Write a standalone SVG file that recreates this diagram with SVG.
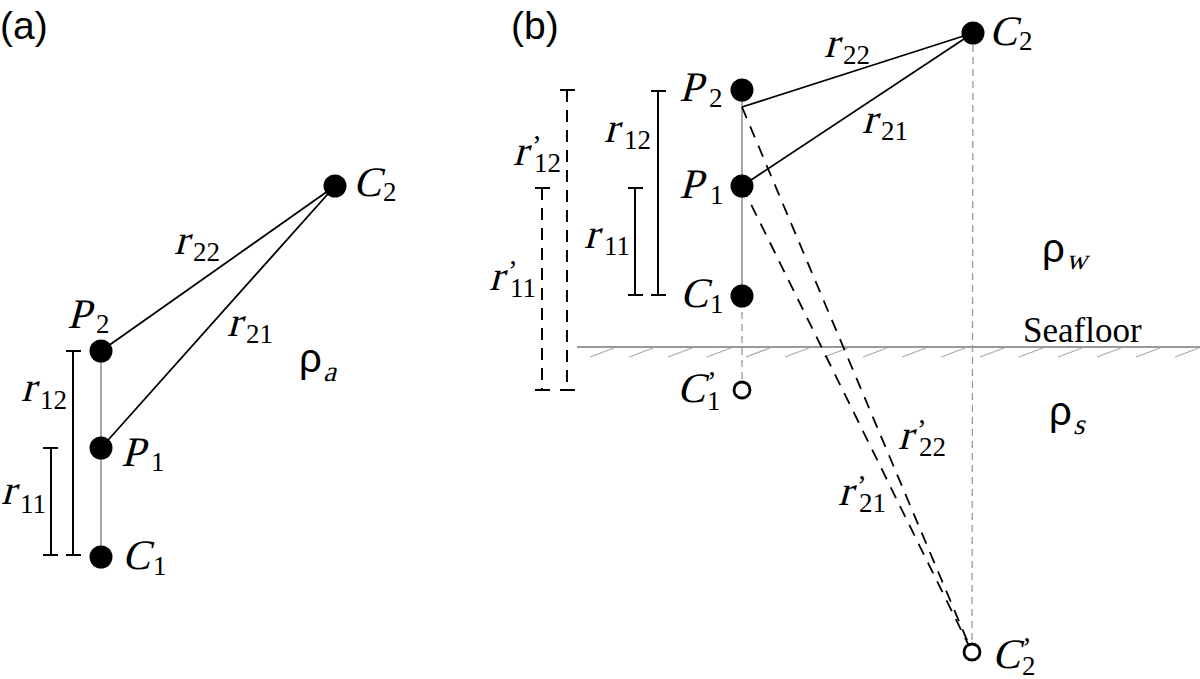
<svg xmlns="http://www.w3.org/2000/svg" width="1200" height="679" viewBox="0 0 1200 679">
<style>
text{font-family:"Liberation Serif","Times New Roman",serif;fill:#000}
.sk{font-size:42px}
.sub{font-size:27px}
.pr{font-size:29px}
.rho{font-family:"Liberation Sans",Arial,sans-serif;font-size:40px}
.rs{font-size:29px}
.panel{font-family:"Liberation Sans",Arial,sans-serif;font-size:39px}
.plain{font-size:35px}
.dot{fill:#000}
.open{fill:#fff;stroke:#000;stroke-width:2.8}
.ln{stroke:#000;stroke-width:1.8;fill:none}
.axis{stroke:#777;stroke-width:1.3;fill:none}
.gd{stroke:#999;stroke-width:1.3;stroke-dasharray:7 5;fill:none}
.dl{stroke:#000;stroke-width:1.8;stroke-dasharray:12 9;fill:none}
.br{stroke:#000;stroke-width:2;fill:none}
.brd{stroke:#000;stroke-width:2;stroke-dasharray:12 8;fill:none}
.sea{stroke:#777;stroke-width:1.5}
.hatch{stroke:#aaa;stroke-width:1.2}
</style>
<rect width="1200" height="679" fill="#fff"/>

<text class="panel" x="0" y="39">(a)</text>
<text class="panel" x="511" y="39">(b)</text>

<g id="connectors">
  <line class="axis" x1="101" y1="351" x2="101" y2="557"/>
  <line class="ln" x1="335" y1="186" x2="101" y2="351"/>
  <line class="ln" x1="335" y1="186" x2="101" y2="448"/>
  <path class="br" d="M73 351V555M66 351H81M66 555H81"/>
  <path class="br" d="M51 448V555M43 448H58M43 555H58"/>
  <line class="sea" x1="577" y1="347" x2="1200" y2="347"/>
  <g class="hatch">
    <line x1="590" y1="357" x2="614" y2="348"/>
    <line x1="629" y1="357" x2="653" y2="348"/>
    <line x1="668" y1="357" x2="692" y2="348"/>
    <line x1="707" y1="357" x2="731" y2="348"/>
    <line x1="746" y1="357" x2="770" y2="348"/>
    <line x1="785" y1="357" x2="809" y2="348"/>
    <line x1="824" y1="357" x2="848" y2="348"/>
    <line x1="863" y1="357" x2="887" y2="348"/>
    <line x1="902" y1="357" x2="926" y2="348"/>
    <line x1="941" y1="357" x2="965" y2="348"/>
    <line x1="980" y1="357" x2="1004" y2="348"/>
    <line x1="1019" y1="357" x2="1043" y2="348"/>
    <line x1="1058" y1="357" x2="1082" y2="348"/>
    <line x1="1097" y1="357" x2="1121" y2="348"/>
    <line x1="1136" y1="357" x2="1160" y2="348"/>
    <line x1="1175" y1="357" x2="1199" y2="348"/>
  </g>
  <line class="axis" x1="742" y1="90" x2="742" y2="296"/>
  <line class="gd" x1="742" y1="300" x2="742" y2="390"/>
  <line class="gd" x1="973" y1="33" x2="972" y2="652"/>
  <line class="ln" x1="973" y1="33" x2="742" y2="107"/>
  <line class="ln" x1="973" y1="33" x2="742" y2="186"/>
  <line class="dl" x1="742" y1="107" x2="972" y2="652"/>
  <line class="dl" x1="742" y1="186" x2="972" y2="652"/>
  <path class="br" d="M658 91V295M651 91H666M651 295H666"/>
  <path class="br" d="M635 188V295M628 188H643M628 295H643"/>
  <path class="brd" d="M567 90V390"/>
  <path class="br" d="M560 90H575M560 390H575"/>
  <path class="brd" d="M542 188V390"/>
  <path class="br" d="M535 188H550M535 390H550"/>
</g>

<g id="a-C2">
  <circle class="dot" cx="335" cy="186" r="11.5"/>
  <g transform="translate(353,196)"><text class="sk" transform="skewX(-15)">C</text><text class="sub" x="30" y="5">2</text></g>
</g>
<g id="a-P2">
  <circle class="dot" cx="101" cy="351" r="11.5"/>
  <g transform="translate(67,328)"><text class="sk" transform="skewX(-15)">P</text><text class="sub" x="29" y="5">2</text></g>
</g>
<g id="a-P1">
  <circle class="dot" cx="101" cy="448" r="11.5"/>
  <g transform="translate(121,466)"><text class="sk" transform="skewX(-15)">P</text><text class="sub" x="30" y="5">1</text></g>
</g>
<g id="a-C1">
  <circle class="dot" cx="101" cy="557" r="11.5"/>
  <g transform="translate(122,569)"><text class="sk" transform="skewX(-15)">C</text><text class="sub" x="31" y="6">1</text></g>
</g>
<g id="a-labels">
  <g transform="translate(174,254)"><text class="sk" transform="skewX(-15)">r</text><text class="sub" x="19" y="7">22</text></g>
  <g transform="translate(227,336)"><text class="sk" transform="skewX(-15)">r</text><text class="sub" x="19" y="7">21</text></g>
  <g transform="translate(21,401)"><text class="sk" transform="skewX(-15)">r</text><text class="sub" x="19" y="8">12</text></g>
  <g transform="translate(1,504)"><text class="sk" transform="skewX(-15)">r</text><text class="sub" x="19" y="9">11</text></g>
  <g transform="translate(299,372)"><text class="rho">ρ</text><text class="rs" transform="translate(24,9) skewX(-15)">a</text></g>
</g>

<g id="b-C2">
  <circle class="dot" cx="973" cy="33" r="11.5"/>
  <g transform="translate(989,45)"><text class="sk" transform="skewX(-15)">C</text><text class="sub" x="30" y="5">2</text></g>
</g>
<g id="b-P2">
  <circle class="dot" cx="742" cy="90" r="11.5"/>
  <g transform="translate(679,101)"><text class="sk" transform="skewX(-15)">P</text><text class="sub" x="30" y="6">2</text></g>
</g>
<g id="b-P1">
  <circle class="dot" cx="742" cy="186" r="11.5"/>
  <g transform="translate(679,198)"><text class="sk" transform="skewX(-15)">P</text><text class="sub" x="31" y="6">1</text></g>
</g>
<g id="b-C1">
  <circle class="dot" cx="742" cy="296" r="11.5"/>
  <g transform="translate(680,307)"><text class="sk" transform="skewX(-15)">C</text><text class="sub" x="30" y="6">1</text></g>
</g>
<g id="b-C1p">
  <circle class="open" cx="742" cy="390" r="8"/>
  <g transform="translate(677,402)"><text class="sk" transform="skewX(-15)">C</text><text class="pr" x="30" y="-11">’</text><text class="sub" x="30" y="8">1</text></g>
</g>
<g id="b-C2p">
  <circle class="open" cx="972" cy="652" r="8"/>
  <g transform="translate(992,668)"><text class="sk" transform="skewX(-15)">C</text><text class="pr" x="30" y="-11">’</text><text class="sub" x="30" y="7">2</text></g>
</g>
<g id="b-labels">
  <g transform="translate(824,57)"><text class="sk" transform="skewX(-15)">r</text><text class="sub" x="19" y="7">22</text></g>
  <g transform="translate(862,133)"><text class="sk" transform="skewX(-15)">r</text><text class="sub" x="19" y="7">21</text></g>
  <g transform="translate(604,142)"><text class="sk" transform="skewX(-15)">r</text><text class="sub" x="20" y="7">12</text></g>
  <g transform="translate(584,248)"><text class="sk" transform="skewX(-15)">r</text><text class="sub" x="20" y="7">11</text></g>
  <g transform="translate(513,165)"><text class="sk" transform="skewX(-15)">r</text><text class="pr" x="19" y="-10">’</text><text class="sub" x="21" y="7">12</text></g>
  <g transform="translate(489,290)"><text class="sk" transform="skewX(-15)">r</text><text class="pr" x="19" y="-10">’</text><text class="sub" x="21" y="7">11</text></g>
  <g transform="translate(898,449)"><text class="sk" transform="skewX(-15)">r</text><text class="pr" x="19" y="-10">’</text><text class="sub" x="21" y="7">22</text></g>
  <g transform="translate(838,505)"><text class="sk" transform="skewX(-15)">r</text><text class="pr" x="19" y="-10">’</text><text class="sub" x="21" y="7">21</text></g>
  <g transform="translate(1042,262)"><text class="rho">ρ</text><text class="rs" transform="translate(24,7) skewX(-15)">w</text></g>
  <g transform="translate(1049,425)"><text class="rho">ρ</text><text class="rs" transform="translate(24,9) skewX(-15)">s</text></g>
  <text class="plain" x="1023" y="342">Seafloor</text>
</g>
</svg>
